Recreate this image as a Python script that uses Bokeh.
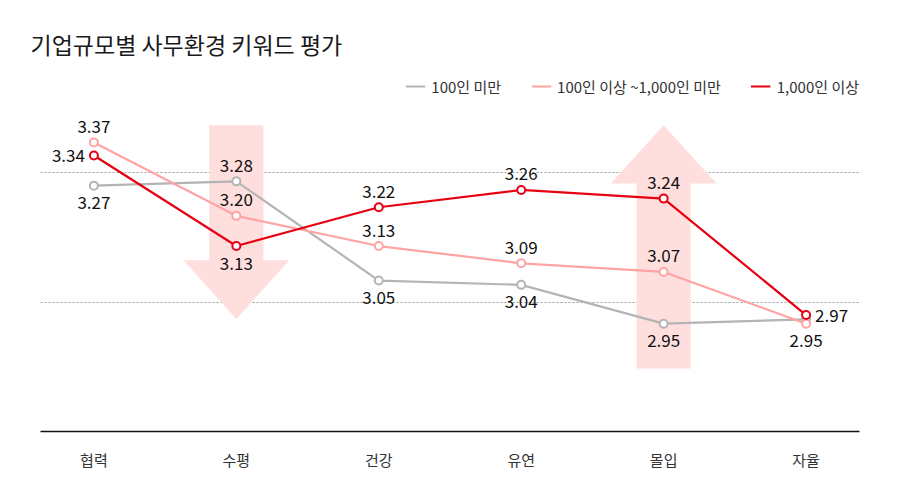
from bokeh.models import ColumnDataSource, Range1d, FixedTicker, Legend, LegendItem
from bokeh.plotting import figure
from bokeh.core.properties import value
from bokeh.embed import file_html
from bokeh.resources import INLINE

FONT = "Noto Sans CJK KR"

# data
categories = ["협력", "수평", "건강", "유연", "몰입", "자율"]
small = [3.27, 3.28, 3.05, 3.04, 2.95, 2.96]      # 100인 미만
medium = [3.37, 3.20, 3.13, 3.09, 3.07, 2.95]     # 100인 이상 ~1,000인 미만
large = [3.34, 3.13, 3.22, 3.26, 3.24, 2.97]      # 1,000인 이상
series_names = ["100인 미만", "100인 이상 ~1,000인 미만", "1,000인 이상"]
grid_values = [3.0, 3.3]

# where each value label sits relative to its point
small_pos = ["below", "above", "below", "below", "below", None]
medium_pos = ["above", "above", "above", "above", "above", "below"]
large_pos = ["left", "below", "above", "above", "above", "right"]

colors = ["#b4b4b4", "#ffa3a3", "#e60012"]
arrow_color = "#ffdede"

x = list(range(len(categories)))

p = figure(width=884, height=472, output_backend="svg", toolbar_location=None,
           x_range=Range1d(-0.375, len(categories) - 1 + 0.375),
           y_range=Range1d(2.7, 3.537),
           min_border_left=40, min_border_right=25, min_border_top=70, min_border_bottom=41,
           title="기업규모별 사무환경 키워드 평가")
p.outline_line_color = None
p.background_fill_color = "white"
p.border_fill_color = "white"

p.title.text_font = FONT
p.title.text_font_size = "23px"
p.title.text_font_style = "normal"
p.title.text_color = "#1a1a1a"
p.title.offset = -10
p.title.standoff = 19

# arrows behind everything
def arrow(cx, y_tail, y_base, y_tip, shaft=0.19, head=0.372):
    xs = [cx - shaft, cx + shaft, cx + shaft, cx + head, cx, cx - head, cx - shaft]
    ys = [y_tail, y_tail, y_base, y_base, y_tip, y_base, y_base]
    return xs, ys

dx, dy = arrow(categories.index("수평"), 3.41, 3.097, 2.961)
ux, uy = arrow(categories.index("몰입"), 2.846, 3.275, 3.41)
p.patches([dx, ux], [dy, uy], fill_color=arrow_color, line_color=None)

# axes / grid
p.yaxis.visible = False
p.xgrid.visible = False
p.ygrid.ticker = FixedTicker(ticks=grid_values)
p.ygrid.grid_line_color = "#9a9a9a"
p.ygrid.grid_line_dash = "2 2"
p.ygrid.grid_line_width = 1

p.xaxis.ticker = FixedTicker(ticks=x)
p.xaxis.major_label_overrides = {i: c for i, c in enumerate(categories)}
p.xaxis.axis_line_color = "#111111"
p.xaxis.axis_line_width = 1.5
p.xaxis.major_tick_line_color = None
p.xaxis.minor_tick_line_color = None
p.xaxis.major_label_standoff = 11
p.xaxis.major_label_text_font = FONT
p.xaxis.major_label_text_font_size = "15px"
p.xaxis.major_label_text_color = "#333333"

items = []
for name, vals, pos, col in zip(series_names, [small, medium, large],
                                [small_pos, medium_pos, large_pos], colors):
    ln = p.line(x, vals, line_color=col, line_width=2.2)
    p.scatter(x, vals, size=8, fill_color="white", line_color=col, line_width=2)
    items.append(LegendItem(label=name, renderers=[ln]))

    lx, ly, lt, xo, yo, al = [], [], [], [], [], []
    for i, (v, ps) in enumerate(zip(vals, pos)):
        if ps is None:
            continue
        lx.append(i)
        ly.append(v)
        lt.append("%.2f" % v)
        if ps == "above":
            xo.append(0); yo.append(-16); al.append("center")
        elif ps == "below":
            xo.append(0); yo.append(17); al.append("center")
        elif ps == "left":
            xo.append(-9); yo.append(0); al.append("right")
        else:
            xo.append(9); yo.append(0); al.append("left")
    src = ColumnDataSource(dict(x=lx, y=ly, t=lt, xo=xo, yo=yo, al=al))
    p.text(x="x", y="y", text="t", x_offset="xo", y_offset="yo", text_align="al",
           text_baseline="middle", text_font=value(FONT), text_font_size="17px",
           text_color="#111111", source=src)

legend = Legend(items=items, location="top_right", orientation="horizontal",
                margin=0, padding=0, spacing=30, glyph_width=20, glyph_height=32,
                label_height=32, label_standoff=6, label_text_font=FONT,
                label_text_font_size="15px", label_text_color="#333333",
                border_line_color=None, background_fill_alpha=0)
p.add_layout(legend)

open("out.html", "w").write(file_html(p, INLINE))
